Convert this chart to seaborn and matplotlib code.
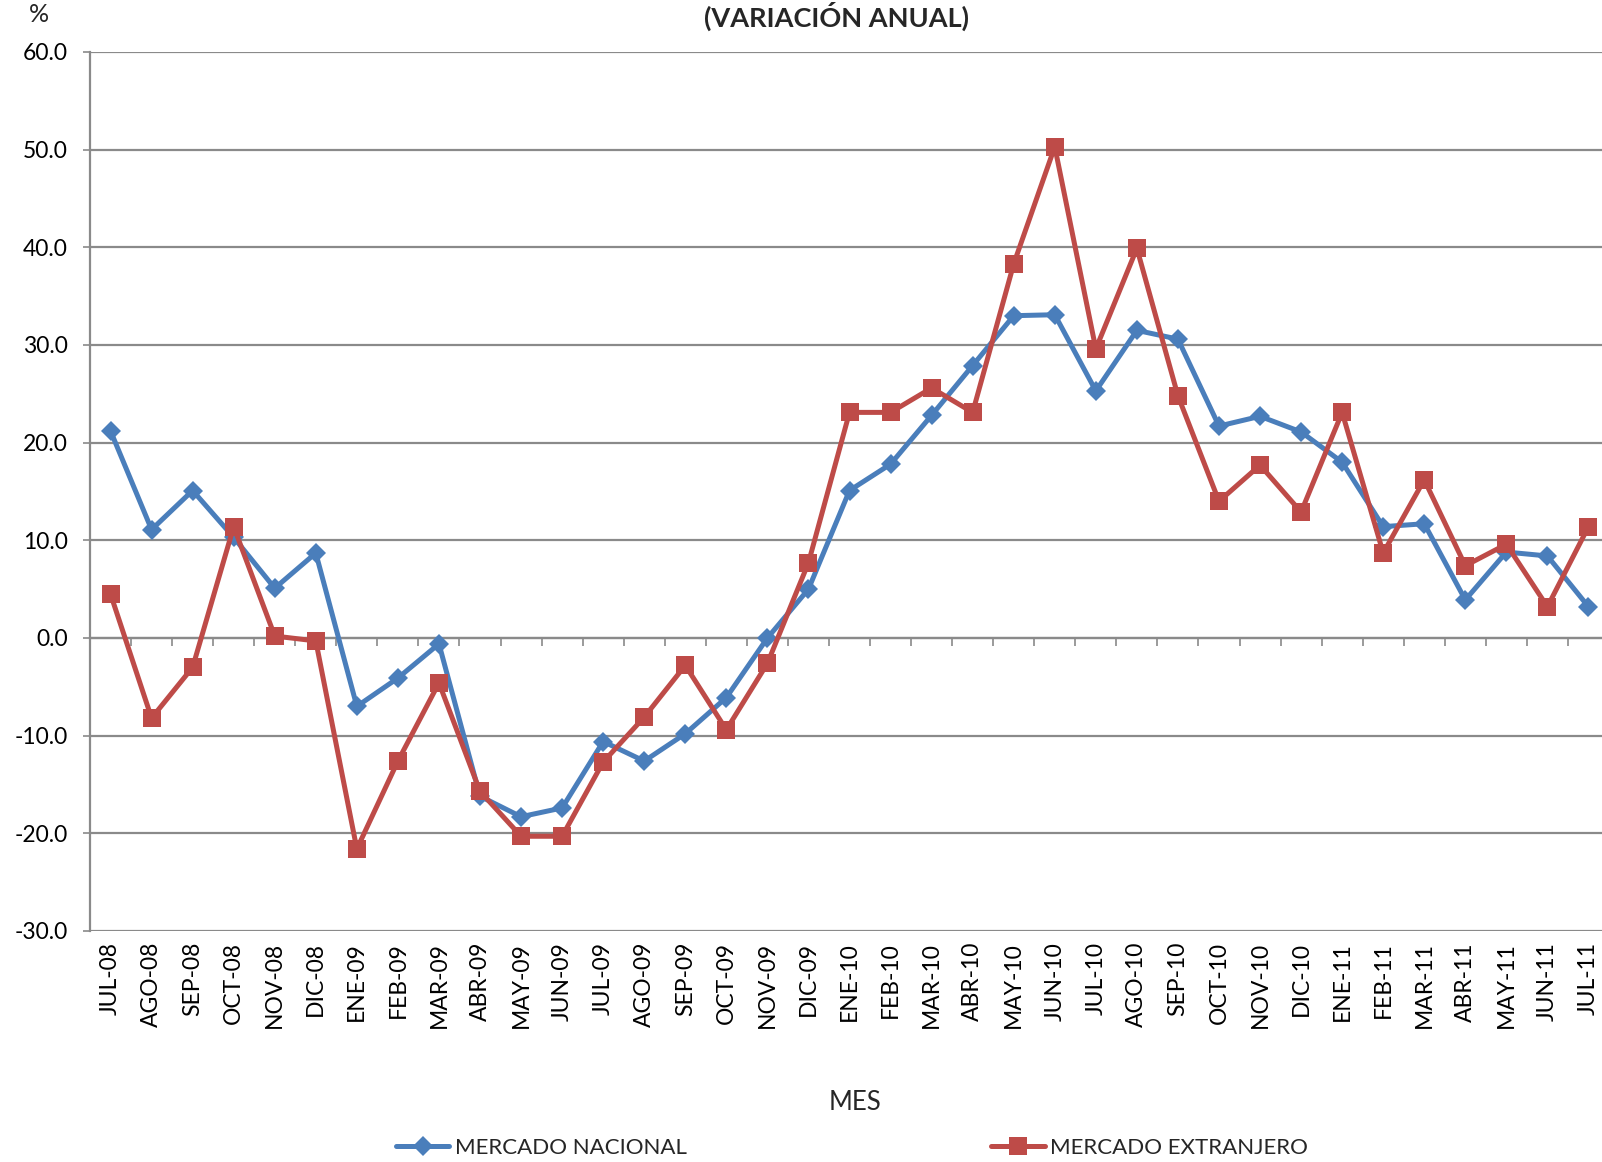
import pandas as pd
import seaborn as sns
import matplotlib.pyplot as plt

# --- Data ---
months = ["JUL-08", "AGO-08", "SEP-08", "OCT-08", "NOV-08", "DIC-08",
          "ENE-09", "FEB-09", "MAR-09", "ABR-09", "MAY-09", "JUN-09",
          "JUL-09", "AGO-09", "SEP-09", "OCT-09", "NOV-09", "DIC-09",
          "ENE-10", "FEB-10", "MAR-10", "ABR-10", "MAY-10", "JUN-10",
          "JUL-10", "AGO-10", "SEP-10", "OCT-10", "NOV-10", "DIC-10",
          "ENE-11", "FEB-11", "MAR-11", "ABR-11", "MAY-11", "JUN-11",
          "JUL-11"]

nacional = [21.2, 11.1, 15.1, 10.3, 5.1, 8.7,
            -7.0, -4.1, -0.6, -16.2, -18.3, -17.4,
            -10.6, -12.6, -9.8, -6.1, 0.0, 5.0,
            15.1, 17.8, 22.8, 27.9, 33.0, 33.1,
            25.3, 31.5, 30.6, 21.7, 22.7, 21.1,
            18.0, 11.4, 11.7, 3.9, 8.8, 8.4,
            3.2]

extranjero = [4.5, -8.2, -3.0, 11.4, 0.2, -0.3,
              -21.6, -12.6, -4.6, -15.7, -20.3, -20.3,
              -12.7, -8.1, -2.8, -9.4, -2.6, 7.7,
              23.1, 23.1, 25.6, 23.1, 38.3, 50.3,
              29.6, 39.9, 24.8, 14.0, 17.7, 12.9,
              23.1, 8.7, 16.2, 7.4, 9.6, 3.2,
              11.4]

y_ticks = [-30, -20, -10, 0, 10, 20, 30, 40, 50, 60]

df = pd.DataFrame({"pos": range(len(months)), "MES": months,
                   "MERCADO NACIONAL": nacional,
                   "MERCADO EXTRANJERO": extranjero})

# --- Figure ---
sns.set_theme(style="white")
plt.rcParams["font.family"] = ["Lato", "DejaVu Sans"]

W, H = 1602, 1162
fig = plt.figure(figsize=(W / 100, H / 100), dpi=100)
ax = fig.add_axes([90 / W, 1 - 931 / H, 1519 / W, (931 - 52) / H])

blue = "#4A7EBB"
red = "#BE4B48"
grid_c = "#8A8A8A"

sns.lineplot(data=df, x="pos", y="MERCADO NACIONAL", ax=ax, color=blue,
             linewidth=3.6, marker="D", markersize=10, markeredgewidth=0,
             label="MERCADO NACIONAL", zorder=3)
sns.lineplot(data=df, x="pos", y="MERCADO EXTRANJERO", ax=ax, color=red,
             linewidth=3.6, marker="s", markersize=13.5, markeredgewidth=0,
             label="MERCADO EXTRANJERO", zorder=4)

ax.set_xlim(-0.5, len(months) - 0.5)
ax.set_ylim(y_ticks[0], y_ticks[-1])
ax.set_yticks(y_ticks)
ax.set_yticklabels([f"{v:.1f}" for v in y_ticks])
ax.set_xticks(range(len(months)))
ax.set_xticklabels(months, rotation=90)
ax.tick_params(axis="x", length=0, pad=8, labelsize=16.5, colors="black")
ax.tick_params(axis="y", left=True, length=5, width=1.2, color=grid_c,
               pad=11, labelsize=16.5, labelcolor="black")

for gy in y_ticks:
    ax.axhline(gy, color=grid_c, linewidth=1.6, zorder=1)

for s in ["top", "right", "bottom"]:
    ax.spines[s].set_visible(False)
ax.spines["left"].set_color(grid_c)
ax.spines["left"].set_linewidth(1.6)

# tick marks between categories on the zero line
zero_frac = (0 - y_ticks[0]) / (y_ticks[-1] - y_ticks[0])
sec = ax.secondary_xaxis(zero_frac)
sec.set_xticks([i - 0.5 for i in range(len(months) + 1)])
sec.set_xticklabels([])
sec.tick_params(length=6, width=1.2, color=grid_c)
sec.spines["bottom"].set_color(grid_c)
sec.spines["bottom"].set_linewidth(1.6)

ax.set_xlabel("")
ax.set_ylabel("")
ax.get_legend().remove()

fig.text(855 / W, 1 - 1102 / H, "MES", ha="center", va="center", fontsize=18.5)
fig.text(836 / W, 1 - 16 / H, "(VARIACIÓN ANUAL)", ha="center", va="center",
         fontsize=19.5, fontweight="bold")
fig.text(39 / W, 1 - 15 / H, "%", ha="center", va="center", fontsize=18)

handles, labels = ax.get_legend_handles_labels()
fig.legend(handles, labels, loc="center", bbox_to_anchor=(852 / W, 1 - 1148 / H),
           ncol=2, frameon=False, fontsize=16, handlelength=2.4,
           handletextpad=0.25, columnspacing=13.7, numpoints=1)

fig.savefig("out.png", dpi=100)
